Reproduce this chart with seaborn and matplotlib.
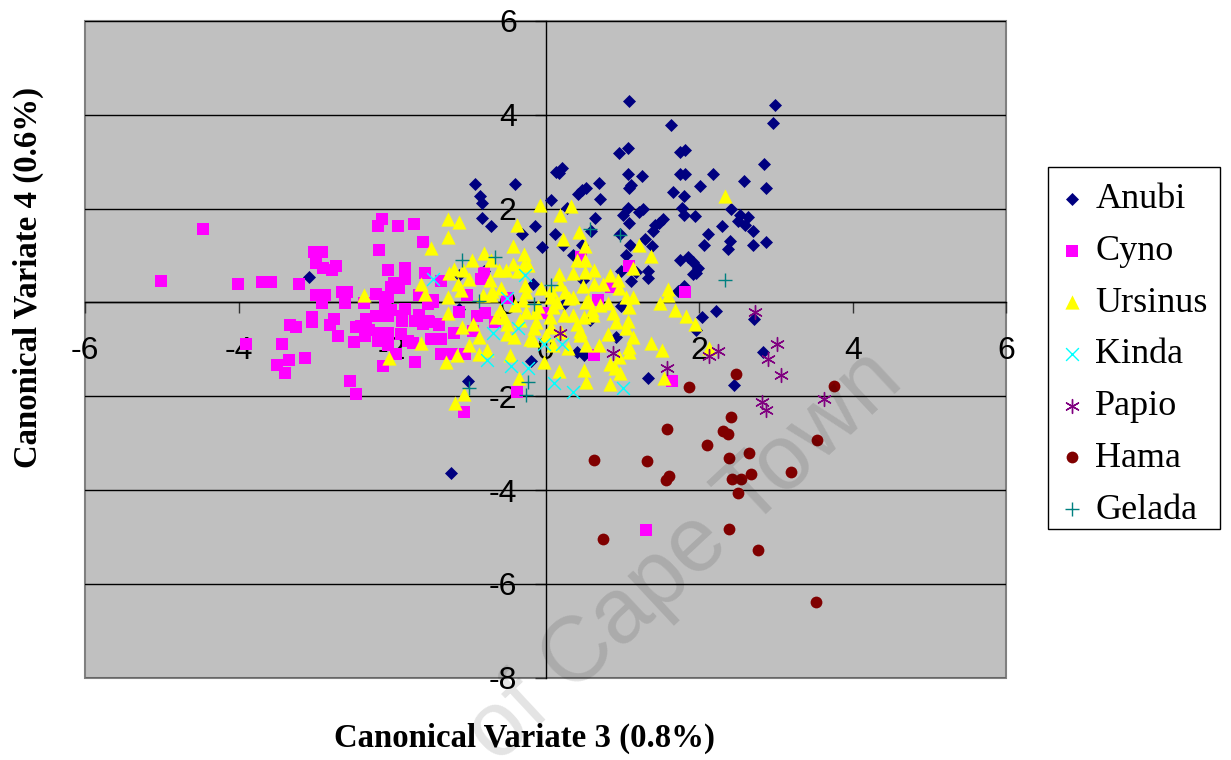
from matplotlib import pyplot as plt
from matplotlib.patches import Rectangle
import seaborn as sns

sns.set_style("white")
plt.rcParams["font.family"] = ["Liberation Sans", "DejaVu Sans"]

anubi_x = [1.09, 2.98, 2.96, 1.63, 1.07, 0.95, 1.75, 1.82, 2.84, 0.21, 0.13, 0.17, 1.07, 1.25, 1.75, 1.82, 2.18, -0.92, -0.40, 0.69, 2.58, 2.01, 2.87, 1.11, 1.09, 0.53, 0.47, 0.42, 1.66, 1.80, -0.86, -0.83, 0.07, 0.71, 0.27, 1.07, 1.00, 1.27, 1.22, 1.77, 1.80, 1.94, 2.41, -0.83, -0.71, 0.64, 1.09, 1.53, 1.47, 1.42, 1.40, -0.14, -0.31, 0.12, 0.59, 0.97, 2.53, 2.63, 2.50, 2.59, 2.30, 2.70, 2.11, 2.40, 2.06, 2.37, 2.70, 2.87, -0.05, 0.23, 1.10, 1.29, 1.39, 0.47, 0.35, 1.05, 1.75, 1.85, 1.92, 1.98, 1.96, 1.92, 0.98, 1.33, 1.33, 1.11, 1.18, 0.48, -0.17, 1.80, 1.72, -1.13, 0.98, 0.24, 2.04, 2.22, 1.96, 0.92, 0.57, 0.40, 0.50, -0.19, -1.02, 1.33, 2.45, -0.81, -1.13, 2.71, 2.83, -3.08, -1.23]
anubi_y = [4.30, 4.21, 3.82, 3.79, 3.30, 3.18, 3.21, 3.25, 2.96, 2.87, 2.79, 2.76, 2.73, 2.69, 2.73, 2.73, 2.73, 2.52, 2.52, 2.55, 2.59, 2.48, 2.45, 2.51, 2.44, 2.43, 2.39, 2.31, 2.35, 2.28, 2.28, 2.13, 2.18, 2.21, 2.01, 2.01, 1.87, 1.99, 1.92, 2.01, 1.87, 1.84, 2.00, 1.80, 1.63, 1.80, 1.70, 1.77, 1.70, 1.65, 1.52, 1.63, 1.45, 1.46, 1.52, 1.45, 1.87, 1.82, 1.73, 1.66, 1.63, 1.52, 1.46, 1.32, 1.22, 1.13, 1.22, 1.28, 1.18, 1.22, 1.22, 1.35, 1.20, 1.23, 1.02, 1.01, 0.90, 0.97, 0.86, 0.74, 0.62, 0.60, 0.67, 0.67, 0.53, 0.45, 0.65, 0.47, 0.40, 0.35, 0.24, -0.13, -0.08, -0.04, -0.32, -0.18, -0.59, -0.73, -0.38, -1.05, -1.11, -1.25, -1.68, -1.62, -1.75, 0.67, 0.58, -0.35, -1.06, 0.54, -3.64]

cyno_x = [-4.46, -5.01, -4.01, -3.70, -3.58, -3.21, -3.02, -2.92, -3.00, -2.90, -2.78, -2.73, -3.00, -2.88, -2.92, -2.66, -2.59, -2.62, -2.37, -2.21, -2.06, -2.10, -2.14, -2.19, -1.93, -1.72, -1.60, -2.17, -2.05, -1.83, -1.57, -1.83, -1.98, -2.02, -1.91, -1.37, -1.65, -1.47, -1.54, -1.83, -2.02, -2.06, -2.21, -2.34, -3.04, -3.04, -2.76, -2.81, -3.33, -3.26, -2.47, -2.41, -2.30, -2.71, -2.36, -2.15, -1.87, -1.87, -1.71, -1.65, -1.60, -1.54, -1.39, -1.89, -1.80, -1.73, -2.06, -2.19, -2.50, -1.50, -1.39, -1.19, -1.37, -1.22, -2.06, -1.95, -3.91, -3.44, -3.14, -3.35, -3.50, -3.40, -2.12, -1.71, -2.55, -2.47, -1.03, -1.47, -1.13, -0.89, -0.79, -1.39, -1.52, -1.20, -0.95, -1.45, -1.37, -1.23, -1.05, -0.80, -0.84, 0.46, 0.68, 0.85, 1.09, 1.81, 0.63, 1.64, -0.37, -1.06, -0.50, -0.04, -0.66, 1.30]
cyno_y = [1.56, 0.46, 0.39, 0.43, 0.43, 0.39, 1.08, 1.08, 0.84, 0.73, 0.70, 0.77, 0.15, 0.15, -0.02, 0.22, 0.22, -0.02, -0.02, 0.18, 0.11, -0.06, 1.77, 1.63, 1.63, 1.67, 1.29, 1.11, 0.70, 0.73, 0.63, 0.50, 0.42, 0.33, 0.30, 0.46, 0.15, 0.05, -0.04, -0.13, -0.15, -0.29, -0.29, -0.36, -0.30, -0.41, -0.36, -0.47, -0.47, -0.53, -0.53, -0.50, -0.59, -0.71, -0.71, -0.65, -0.29, -0.39, -0.39, -0.27, -0.45, -0.39, -0.47, -0.68, -0.82, -0.86, -0.65, -0.82, -0.85, -0.78, -0.78, -0.65, -1.09, -1.09, -0.91, -1.10, -0.89, -0.88, -1.19, -1.23, -1.33, -1.50, -1.36, -1.26, -1.67, -1.95, 0.15, 0.01, -0.20, -0.29, -0.23, -0.46, -0.41, -0.65, -0.60, -0.78, -0.78, -1.09, -1.10, 0.63, 0.51, 0.96, 0.05, 0.33, 0.77, 0.23, -1.12, -1.67, -1.90, -2.33, 0.09, -0.23, -0.41, -4.86]

ursinus_x = [-0.07, 0.33, 0.19, -1.28, -1.13, -0.38, -1.28, 0.43, 0.23, 2.34, 1.21, 1.37, -1.50, -0.43, 0.51, -0.81, -0.96, -0.28, -0.71, -0.43, -0.29, -0.23, 0.40, 0.51, 1.13, -1.19, -1.26, -1.08, -1.00, -0.73, -0.61, -0.52, -0.36, 0.17, 0.35, 0.51, 0.63, 0.83, -1.14, -1.11, -1.28, -0.82, -0.71, -0.58, -0.27, -0.26, -0.06, 0.18, 0.07, 0.48, 0.63, 0.74, 0.94, 0.95, 1.05, 1.14, 1.59, 1.59, 1.49, 1.09, 0.81, 1.68, 1.83, 1.94, 0.87, 0.92, 1.07, 1.05, 0.81, 1.13, 1.09, 1.09, 1.37, 1.52, 0.69, 0.95, 0.83, 0.90, 0.97, 0.83, 1.54, 2.13, 0.52, 0.50, 0.17, -0.35, -1.06, -1.18, -0.47, -0.76, -0.87, -1.00, -0.87, -1.09, -0.95, -1.28, -1.30, -1.16, -0.65, -0.50, -0.50, -0.41, -0.21, -0.13, -0.34, -0.26, -0.13, 0.07, 0.09, 0.05, 0.07, -0.02, 0.24, 0.35, 0.40, 0.50, 0.61, 0.35, 0.52, 0.44, 0.29, 0.53, -0.17, 0.09, -2.37, -1.63, -1.58, -1.63, -2.04, -0.60, -0.40, -0.55, -0.30, -0.10, 0.15, 0.30, 0.55, 0.70, 0.20, -0.15, 0.00, 0.45, 0.60, 0.25, -0.70]
ursinus_y = [2.07, 2.05, 1.86, 1.79, 1.72, 1.65, 1.40, 1.50, 1.36, 2.26, 1.23, 0.99, 1.16, 1.20, 1.20, 1.06, 0.90, 1.03, 0.91, 0.82, 0.83, 0.79, 0.90, 0.90, 0.74, 0.72, 0.62, 0.70, 0.51, 0.47, 0.69, 0.69, 0.67, 0.60, 0.62, 0.65, 0.70, 0.58, 0.40, 0.26, 0.11, 0.16, 0.16, 0.31, 0.37, 0.23, 0.30, 0.40, 0.26, 0.35, 0.40, 0.40, 0.47, 0.30, 0.12, 0.11, 0.28, 0.16, -0.01, -0.09, -0.01, -0.15, -0.29, -0.46, -0.23, -0.41, -0.39, -0.55, -0.67, -0.73, -0.94, -1.06, -0.87, -1.01, -0.91, -1.16, -1.31, -1.40, -1.50, -1.74, -1.62, -0.98, -1.70, -1.43, -1.45, -1.62, -1.95, -2.15, -1.12, -1.01, -1.09, -0.91, -0.73, -0.53, -0.45, -0.22, -1.26, -1.12, -0.30, -0.45, -0.67, -0.73, -0.77, -0.41, -0.38, -0.20, -0.20, 0.12, -0.09, -0.30, -0.52, -1.26, -0.27, -0.27, -0.45, -0.30, -0.27, 0.12, 0.01, -0.70, -0.98, -0.91, -0.80, -0.91, 0.15, 0.39, 0.19, -0.87, -1.19, -0.15, -0.05, -0.30, 0.05, -0.08, 0.02, 0.10, 0.05, -0.05, -0.62, -0.55, -0.70, -0.60, -0.15, 0.22, 0.24]

kinda_x = [-0.27, -0.69, -0.36, -0.76, -0.45, -0.23, -0.02, 0.21, 0.11, 0.35, 1.00, -0.50, -1.47]
kinda_y = [0.58, -0.66, -0.55, -1.23, -1.35, -1.40, -0.89, -0.89, -1.72, -1.90, -1.83, 0.09, 0.49]

papio_x = [0.19, 0.87, 1.58, 2.13, 2.25, 2.73, 3.01, 2.90, 3.07, 2.82, 2.87, 3.63]
papio_y = [-0.66, -1.07, -1.40, -1.14, -1.04, -0.21, -0.89, -1.21, -1.55, -2.13, -2.30, -2.06]

hama_x = [2.48, 1.87, 3.76, 2.41, 1.58, 2.31, 2.37, 3.54, 2.10, 2.39, 2.65, 0.63, 1.32, 3.19, 2.67, 2.43, 2.54, 1.60, 1.56, 2.51, 2.39, 0.75, 2.77, 3.52]
hama_y = [-1.52, -1.80, -1.77, -2.45, -2.70, -2.73, -2.80, -2.94, -3.04, -3.31, -3.21, -3.35, -3.38, -3.62, -3.66, -3.76, -3.76, -3.69, -3.79, -4.07, -4.83, -5.04, -5.28, -6.38]

gelada_x = [0.57, 0.97, 2.34, -0.66, -1.09, 0.07, -0.87, -0.16, -0.23, -1.00, -0.26]
gelada_y = [1.57, 1.43, 0.48, 0.96, 0.90, 0.37, 0.03, -0.04, -1.69, -1.83, -1.97]

x_ticks = [-6, -4, -2, 0, 2, 4, 6]
y_ticks = [-8, -6, -4, -2, 0, 2, 4, 6]

W, H = 1231, 760
fig = plt.figure(figsize=(W / 100, H / 100), dpi=100)
ax = fig.add_axes([85.3 / W, (H - 677.8) / H, 921 / W, 656.8 / H])
ax.set_facecolor("#c0c0c0")
ax.patch.set_edgecolor("#808080")
ax.patch.set_linewidth(1.5)

# name, xs, ys, marker, colour, size, line width
groups = [
    ("Anubi", anubi_x, anubi_y, "D", "#000080", 44, 0),
    ("Cyno", cyno_x, cyno_y, "s", "#ff00ff", 66, 0),
    ("Ursinus", ursinus_x, ursinus_y, "^", "#ffff00", 105, 0),
    ("Kinda", kinda_x, kinda_y, "x", "#00ffff", 85, 1),
    ("Papio", papio_x, papio_y, (6, 2, 0), "#800080", 100, 1),
    ("Hama", hama_x, hama_y, "o", "#800000", 72, 0),
    ("Gelada", gelada_x, gelada_y, "+", "#008080", 95, 1),
]
for name, xs, ys, mk, col, size, lw in groups:
    sns.scatterplot(x=xs, y=ys, ax=ax, marker=mk, color=col, s=size, linewidth=lw,
                    edgecolor=col if lw == 0 else None, label=name, clip_on=False)

ax.set_xlim(-6, 6)
ax.set_ylim(-8, 6)
ax.set_xticks(x_ticks)
ax.set_yticks(y_ticks)
for y in y_ticks:
    ax.axhline(y, color="black", lw=1, zorder=0.7)

# axes cross at the origin
ax.spines["left"].set_position(("data", 0))
ax.spines["bottom"].set_position(("data", 0))
ax.spines["top"].set_visible(False)
ax.spines["right"].set_visible(False)
for s in ["left", "bottom"]:
    ax.spines[s].set_color("black")
    ax.spines[s].set_linewidth(1)
    ax.spines[s].set_zorder(0.8)
ax.tick_params(axis="x", bottom=True, length=8, width=1, color="#333333",
               labelcolor="black", labelsize=23, pad=16)
ax.tick_params(axis="y", left=True, length=8, width=1, color="#333333",
               labelcolor="black", labelsize=23, pad=13)
ax.set_xticklabels([str(t) for t in x_ticks])
ax.set_yticklabels([str(t) for t in y_ticks])

fig.text(524 / W, 1 - 738 / H, "Canonical Variate 3 (0.8%)", family="Liberation Serif",
         fontweight="bold", fontsize=23.6, ha="center", va="center", color="black")
fig.text(28 / W, 1 - 277 / H, "Canonical Variate 4 (0.6%)", family="Liberation Serif",
         fontweight="bold", fontsize=23.6, rotation=90, ha="center", va="center", color="black")

# legend box drawn apart so the rows can sit lower in it
fig.add_artist(Rectangle((1048 / W, 1 - 529 / H), 172 / W, 362 / H, transform=fig.transFigure,
                         facecolor="white", edgecolor="black", lw=1, zorder=-1))
leg = ax.legend(loc="upper left", bbox_to_anchor=(1048 / W, 1 - 173 / H),
                bbox_transform=fig.transFigure, frameon=False,
                prop={"family": "Liberation Serif", "size": 26},
                labelspacing=0.51, handletextpad=0.25, borderpad=0.28, borderaxespad=0,
                handlelength=0.78)
for t in leg.get_texts():
    t.set_color("black")

fig.text(906 / W, 1 - 384 / H, "of Cape Town", family="Liberation Sans",
         fontsize=66, rotation=43, rotation_mode="anchor", ha="right", va="baseline",
         color="black", alpha=0.11, zorder=10)

plt.savefig("out.png", dpi=100)
